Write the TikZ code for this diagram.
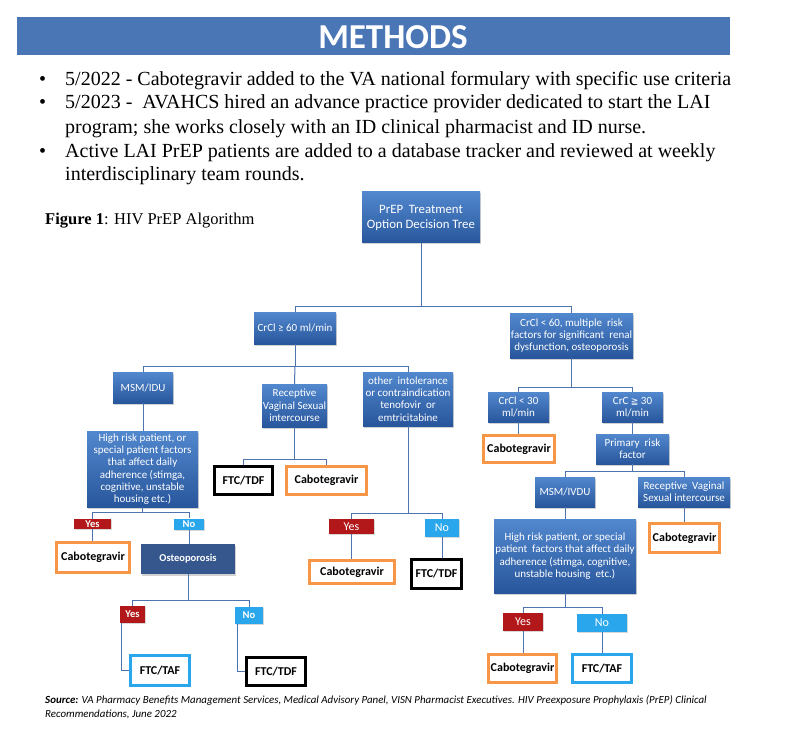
\documentclass[tikz,border=0pt]{standalone}
\usepackage{fontspec}
\setmainfont{Liberation Serif}
\newfontfamily\carl{Carlito}
\newfontfamily\dejavu{DejaVu Sans}
\usetikzlibrary{shadows}
\definecolor{hdr}{RGB}{74,118,182}
\definecolor{boxtop}{RGB}{82,136,206}
\definecolor{boxbot}{RGB}{40,86,156}
\definecolor{osteoc}{RGB}{54,87,142}
\definecolor{yesred}{RGB}{178,24,26}
\definecolor{noblue}{RGB}{42,167,236}
\definecolor{orng}{RGB}{247,150,70}
\definecolor{linec}{RGB}{77,116,174}
\tikzset{
  bx/.style={top color=boxtop, bottom color=boxbot, text=white, align=center, inner sep=0pt,
    font=\carl\fontsize{11}{12.3}\selectfont,
    drop shadow={opacity=0.35, shadow xshift=1.2pt, shadow yshift=-1.5pt}},
  flatbx/.style={fill=osteoc, text=white, align=center, inner sep=0pt,
    font=\carl\bfseries\fontsize{10.5}{12}\selectfont,
    drop shadow={opacity=0.35, shadow xshift=1.2pt, shadow yshift=-1.5pt}},
  outc/.style={fill=white, draw=orng, line width=3pt, inner sep=0pt, font=\carl\bfseries\fontsize{12}{13}\selectfont},
  outk/.style={fill=white, draw=black, line width=3pt, inner sep=0pt, font=\carl\bfseries\fontsize{12}{13}\selectfont},
  outb/.style={fill=white, draw=noblue, line width=3pt, inner sep=0pt, font=\carl\bfseries\fontsize{12}{13}\selectfont},
  yeslab/.style={fill=yesred, text=white, inner sep=0pt, font=\carl\bfseries\fontsize{10.5}{11}\selectfont,
    drop shadow={opacity=0.3, shadow xshift=1pt, shadow yshift=-1pt}},
  nolab/.style={fill=noblue, text=white, inner sep=0pt, font=\carl\bfseries\fontsize{10.5}{11}\selectfont,
    drop shadow={opacity=0.3, shadow xshift=1pt, shadow yshift=-1pt}},
  biglab/.style={font=\carl\fontsize{12}{13}\selectfont},
  conn/.style={draw=linec, line width=1pt},
  bul/.style={anchor=base west, inner sep=0pt, font=\fontsize{20}{23}\selectfont},
}
\begin{document}
\begin{tikzpicture}[x=1pt,y=-1pt]
\useasboundingbox (0,0) rectangle (796,749);
\fill[white] (0,0) rectangle (796,749);
% header
\node[fill=hdr, minimum width=713pt, minimum height=38pt, inner sep=0pt, anchor=north west] (hdrbar) at (17,17) {};
\node[text=white, inner sep=0pt, font=\carl\bfseries\fontsize{35}{35}\selectfont] (title) at (393,37) {METHODS};
% bullets
\node[bul] (d1) at (39,86) {•};
\node[bul] (t1) at (65,86) {5/2022 - Cabotegravir added to the VA national formulary with specific use criteria};
\node[bul] (d2) at (39,109) {•};
\node[bul] (t2) at (65,109) {5/2023 -\ \ AVAHCS hired an advance practice provider dedicated to start the LAI};
\node[bul] (t3) at (65,134) {program; she works closely with an ID clinical pharmacist and ID nurse.};
\node[bul] (d3) at (39,158) {•};
\node[bul] (t4) at (65,158) {Active LAI PrEP patients are added to a database tracker and reviewed at weekly};
\node[bul] (t5) at (65,181) {interdisciplinary team rounds.};
% figure label
\node[anchor=west, inner sep=0pt, font=\fontsize{16.5}{18}\selectfont] (fig) at (45,221) {\textbf{Figure 1}: HIV PrEP Algorithm};
% source
\node[anchor=north west, align=left, inner sep=0pt, font=\carl\itshape\fontsize{10.9}{14}\selectfont] (src) at (45,695)
  {\textbf{Source:} VA Pharmacy Benefits Management Services, Medical Advisory Panel, VISN Pharmacist Executives. HIV Preexposure Prophylaxis (PrEP) Clinical\\Recommendations, June 2022};

% tree nodes
\node[bx, minimum width=118pt, minimum height=51pt, font=\carl\fontsize{12.8}{15}\selectfont] (root) at (421,217.5) {PrEP\ \ Treatment\\Option Decision Tree};
\node[bx, minimum width=82pt, minimum height=32pt] (c60) at (295,328) {CrCl ≥ 60 ml/min};
\node[bx, minimum width=123pt, minimum height=45pt] (clt60) at (571.5,335.5) {CrCl\ < 60, multiple\ \ risk\\factors for significant\ \ renal\\dysfunction, osteoporosis};
\node[bx, minimum width=60pt, minimum height=31pt] (msm) at (143,387.5) {MSM/IDU};
\node[bx, minimum width=65pt, minimum height=43pt] (rvs) at (294.5,405.5) {Receptive\\Vaginal Sexual\\intercourse};
\node[bx, minimum width=90pt, minimum height=54pt] (oth) at (408,399) {other\ \ intolerance\\or contraindication\\tenofovir\ \ or\\emtricitabine};
\node[bx, minimum width=111pt, minimum height=76pt] (hr1) at (142.5,469) {High risk patient, or\\special patient factors\\that affect daily\\adherence (stimga,\\cognitive, unstable\\housing etc.)};
\node[outk, minimum width=58pt, minimum height=28pt] (ftctdf1) at (243.5,480.5) {FTC/TDF};
\node[outc, minimum width=80pt, minimum height=28pt] (cab1) at (326.5,480.5) {Cabotegravir};
\node[yeslab, minimum width=37pt, minimum height=10pt] (yes1) at (92.5,524) {Yes};
\node[nolab, minimum width=30pt, minimum height=11pt] (no1) at (189,524) {No};
\node[outc, minimum width=73pt, minimum height=30pt] (cab2) at (93,557.5) {Cabotegravir};
\node[flatbx, minimum width=94pt, minimum height=30pt] (osteo) at (188,559) {Osteoporosis};
\node[yeslab, minimum width=25pt, minimum height=17pt] (yes2) at (132.5,614.5) {Yes};
\node[nolab, minimum width=28pt, minimum height=17pt] (no2) at (249,615.5) {No};
\node[outb, minimum width=59pt, minimum height=30pt] (ftctaf1) at (160,670.5) {FTC/TAF};
\node[outk, minimum width=59pt, minimum height=28pt] (ftctdf2) at (276,671.5) {FTC/TDF};
\node[yeslab, biglab, minimum width=45pt, minimum height=15pt] (yes3) at (351.5,526.5) {Yes};
\node[nolab, biglab, minimum width=34pt, minimum height=18pt] (no3) at (442,528) {No};
\node[outc, minimum width=85pt, minimum height=23pt] (cab3) at (352,572) {Cabotegravir};
\node[outk, minimum width=50pt, minimum height=29pt] (ftctdf3) at (436.5,574) {FTC/TDF};
\node[bx, minimum width=61pt, minimum height=30pt] (clt30) at (518.5,407) {CrCl\ < 30\\ml/min};
\node[bx, minimum width=61pt, minimum height=30pt] (cge30) at (632.5,407) {CrC {\dejavu\fontsize{9}{10}\selectfont ≧} 30\\ml/min};
\node[outc, minimum width=71pt, minimum height=27pt] (cab4) at (519,449) {Cabotegravir};
\node[bx, minimum width=73pt, minimum height=30pt] (prf) at (632.5,449) {Primary\ \ risk\\factor};
\node[bx, minimum width=60pt, minimum height=30pt] (msm2) at (565,492) {MSM/IVDU};
\node[bx, minimum width=92pt, minimum height=30pt] (rvs2) at (684,492) {Receptive\ \ Vaginal\\Sexual intercourse};
\node[outc, minimum width=70pt, minimum height=29pt] (cab5) at (684.5,538) {Cabotegravir};
\node[bx, minimum width=142pt, minimum height=74pt] (hr2) at (565,556) {High risk patient, or special\\patient\ \ factors that affect daily\\adherence (stimga, cognitive,\\unstable housing\ \ etc.)};
\node[yeslab, biglab, minimum width=40pt, minimum height=18pt] (yes4) at (523,622) {Yes};
\node[nolab, biglab, minimum width=50pt, minimum height=18pt] (no4) at (602,623) {No};
\node[outc, minimum width=68pt, minimum height=28pt] (cab6) at (522.5,668.5) {Cabotegravir};
\node[outb, minimum width=59pt, minimum height=28pt] (ftctaf2) at (602,668.5) {FTC/TAF};

% bus coordinates
\coordinate (b1) at (0,306);
\coordinate (b2) at (0,366);
\coordinate (b3) at (0,459);
\coordinate (b4) at (0,512);
\coordinate (b5) at (0,600);
\coordinate (b6) at (0,513);
\coordinate (b7) at (0,387);
\coordinate (b8) at (0,471);
\coordinate (b9) at (0,607);

% connectors
\draw[conn] (root.south) -- (root.south |- b1) -| (c60.north);
\draw[conn] (root.south |- b1) -| (clt60.north);
\draw[conn] (c60.south) -- (c60.south |- b2) -| (msm.north);
\draw[conn] (c60.south |- b2) -- (rvs.north);
\draw[conn] (c60.south |- b2) -| (oth.north);
\draw[conn] (msm.south) -- (msm.south |- hr1.north);
\draw[conn] (rvs.south) -- (rvs.south |- b3) -| (ftctdf1.north);
\draw[conn] (rvs.south |- b3) -| (cab1.north);
\draw[conn] (hr1.south) -- (hr1.south |- b4) -| (yes1.north);
\draw[conn] (hr1.south |- b4) -| (no1.north);
\draw[conn] (yes1.south) -- (yes1.south |- cab2.north);
\draw[conn] (no1.south) -- (no1.south |- osteo.north);
\draw[conn] (osteo.south) -- (osteo.south |- b5) -| (yes2.north);
\draw[conn] (osteo.south |- b5) -| (no2.north);
\draw[conn] ([xshift=2pt]yes2.south west) |- (ftctaf1.west);
\draw[conn] ([xshift=3pt]no2.south west) |- (ftctdf2.west);
\draw[conn] (oth.south) -- (oth.south |- b6) -| (yes3.north);
\draw[conn] (oth.south |- b6) -| (no3.north);
\draw[conn] (yes3.south) -- (yes3.south |- cab3.north);
\draw[conn] (no3.south) -- (no3.south |- ftctdf3.north);
\draw[conn] (clt60.south) -- (clt60.south |- b7) -| (clt30.north);
\draw[conn] (clt60.south |- b7) -| (cge30.north);
\draw[conn] (clt30.south) -- (clt30.south |- cab4.north);
\draw[conn] (cge30.south) -- (cge30.south |- prf.north);
\draw[conn] (prf.south) -- (prf.south |- b8) -| (msm2.north);
\draw[conn] (prf.south |- b8) -| (rvs2.north);
\draw[conn] (msm2.south) -- (msm2.south |- hr2.north);
\draw[conn] (rvs2.south) -- (rvs2.south |- cab5.north);
\draw[conn] (hr2.south) -- (hr2.south |- b9) -| (yes4.north);
\draw[conn] (hr2.south |- b9) -| (no4.north);
\draw[conn] (yes4.south) -- (yes4.south |- cab6.north);
\draw[conn] (no4.south) -- (no4.south |- ftctaf2.north);
\end{tikzpicture}
\end{document}
